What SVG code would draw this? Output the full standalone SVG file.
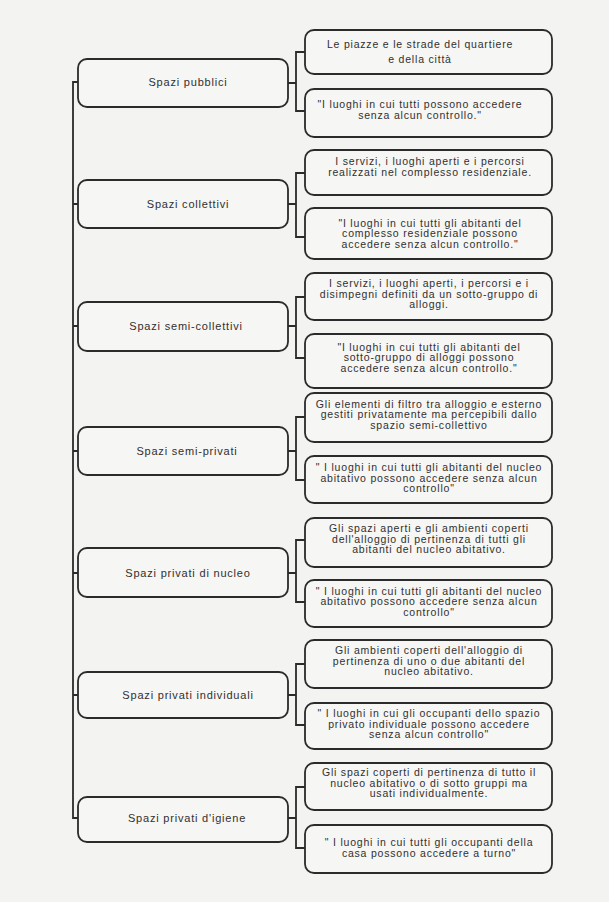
<svg xmlns="http://www.w3.org/2000/svg" width="609" height="902" viewBox="0 0 609 902">
<style>
.bg{fill:#f3f3f1}
.box{fill:#f6f6f4;stroke:#2b2b2b;stroke-width:1.8}
.ln{fill:none;stroke:#2b2b2b;stroke-width:1.8}
text{font-family:"Liberation Sans",Arial,sans-serif;font-size:10.5px;letter-spacing:0.8px;fill:#303030;text-anchor:middle}
.lbl{font-size:11px}
</style>
<rect class="bg" x="0" y="0" width="609" height="902"/>
<g id="connectors">
<path class="ln" d="M78,82 H73 V818 H78"/>
<path class="ln" d="M73,204 H78 M73,326 H78 M73,451 H78 M73,573 H78 M73,695 H78"/>
<path class="ln" d="M288,83 H296 M305,52 H296 V111 H305"/>
<path class="ln" d="M288,204 H296 M305,173 H296 V237 H305"/>
<path class="ln" d="M288,326 H296 M305,297 H296 V358 H305"/>
<path class="ln" d="M288,451 H296 M305,417 H296 V480 H305"/>
<path class="ln" d="M288,573 H296 M305,540 H296 V602 H305"/>
<path class="ln" d="M288,695 H296 M305,664 H296 V725 H305"/>
<path class="ln" d="M288,818 H296 M305,787 H296 V848 H305"/>
</g>
<g id="n1">
<rect class="box" x="78" y="59" width="210" height="48" rx="9"/>
<text class="lbl" x="188" y="86">Spazi pubblici</text>
</g>
<g id="n1a">
<rect class="box" x="305" y="30" width="247" height="44" rx="9"/>
<text x="420" y="48">Le piazze e le strade del quartiere</text>
<text x="420" y="62.5">e della città</text>
</g>
<g id="n1b">
<rect class="box" x="305" y="89" width="247" height="48" rx="9"/>
<text x="420" y="108">"I luoghi in cui tutti possono accedere</text>
<text x="420" y="118.5">senza alcun controllo."</text>
</g>
<g id="n2">
<rect class="box" x="78" y="180" width="210" height="48" rx="9"/>
<text class="lbl" x="188" y="208">Spazi collettivi</text>
</g>
<g id="n2a">
<rect class="box" x="305" y="150" width="247" height="45" rx="9"/>
<text x="430" y="165">I servizi, i luoghi aperti e i percorsi</text>
<text x="430" y="175.5">realizzati nel complesso residenziale.</text>
</g>
<g id="n2b">
<rect class="box" x="305" y="208" width="247" height="51" rx="9"/>
<text x="430" y="226.5">"I luoghi in cui tutti gli abitanti del</text>
<text x="430" y="237">complesso residenziale possono</text>
<text x="430" y="247.5">accedere senza alcun controllo."</text>
</g>
<g id="n3">
<rect class="box" x="78" y="302" width="210" height="49" rx="9"/>
<text class="lbl" x="186" y="330">Spazi semi-collettivi</text>
</g>
<g id="n3a">
<rect class="box" x="305" y="273" width="247" height="47" rx="9"/>
<text x="429" y="287">I  servizi, i luoghi aperti, i percorsi e i</text>
<text x="429" y="297.5">disimpegni  definiti da un sotto-gruppo di</text>
<text x="429" y="308">alloggi.</text>
</g>
<g id="n3b">
<rect class="box" x="305" y="334" width="247" height="54" rx="9"/>
<text x="429" y="350.5">"I luoghi in cui tutti gli abitanti del</text>
<text x="429" y="361">sotto-gruppo di alloggi possono</text>
<text x="429" y="371.5">accedere senza alcun controllo."</text>
</g>
<g id="n4">
<rect class="box" x="78" y="427" width="210" height="48" rx="9"/>
<text class="lbl" x="187" y="455">Spazi semi-privati</text>
</g>
<g id="n4a">
<rect class="box" x="305" y="393" width="247" height="49" rx="9"/>
<text x="429" y="407.5">Gli elementi  di filtro tra alloggio e esterno</text>
<text x="429" y="418">gestiti privatamente ma percepibili dallo</text>
<text x="429" y="428.5">spazio semi-collettivo</text>
</g>
<g id="n4b">
<rect class="box" x="305" y="456" width="247" height="47" rx="9"/>
<text x="429" y="471">" I luoghi in cui tutti gli abitanti del nucleo</text>
<text x="429" y="481.5">abitativo possono accedere senza alcun</text>
<text x="429" y="492">controllo"</text>
</g>
<g id="n5">
<rect class="box" x="78" y="548" width="210" height="49" rx="9"/>
<text class="lbl" x="188" y="577">Spazi privati di nucleo</text>
</g>
<g id="n5a">
<rect class="box" x="305" y="518" width="247" height="49" rx="9"/>
<text x="429" y="532">Gli spazi aperti e gli ambienti coperti</text>
<text x="429" y="542.5">dell'alloggio di pertinenza di tutti gli</text>
<text x="429" y="553">abitanti del nucleo abitativo.</text>
</g>
<g id="n5b">
<rect class="box" x="305" y="580" width="247" height="47" rx="9"/>
<text x="429" y="594.5">" I luoghi in cui tutti gli abitanti del nucleo</text>
<text x="429" y="605">abitativo possono accedere senza alcun</text>
<text x="429" y="615.5">controllo"</text>
</g>
<g id="n6">
<rect class="box" x="78" y="672" width="210" height="46" rx="9"/>
<text class="lbl" x="188" y="699">Spazi privati individuali</text>
</g>
<g id="n6a">
<rect class="box" x="305" y="640" width="247" height="48" rx="9"/>
<text x="429" y="654">Gli ambienti coperti dell'alloggio di</text>
<text x="429" y="664.5">pertinenza di uno o due abitanti del</text>
<text x="429" y="675">nucleo abitativo.</text>
</g>
<g id="n6b">
<rect class="box" x="305" y="703" width="247" height="46" rx="9"/>
<text x="429" y="717">" I luoghi in cui gli occupanti dello spazio</text>
<text x="429" y="727.5">privato individuale  possono accedere</text>
<text x="429" y="738">senza alcun controllo"</text>
</g>
<g id="n7">
<rect class="box" x="78" y="797" width="210" height="45" rx="9"/>
<text class="lbl" x="187" y="822">Spazi privati d'igiene</text>
</g>
<g id="n7a">
<rect class="box" x="305" y="763" width="247" height="47" rx="9"/>
<text x="429" y="776">Gli spazi coperti di pertinenza di tutto il</text>
<text x="429" y="786.5">nucleo abitativo o di sotto gruppi ma</text>
<text x="429" y="797">usati individualmente.</text>
</g>
<g id="n7b">
<rect class="box" x="305" y="825" width="247" height="48" rx="9"/>
<text x="429" y="846">" I luoghi in cui tutti gli occupanti della</text>
<text x="429" y="856.5">casa  possono accedere a turno"</text>
</g>
</svg>
